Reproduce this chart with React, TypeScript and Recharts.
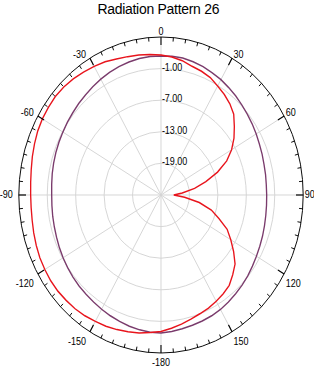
import React from 'react';
import { RadarChart, Radar, PolarGrid, PolarAngleAxis, PolarRadiusAxis } from 'recharts';

// angle in degrees, clockwise from top
const angles = [
  0, 5, 10, 15, 20, 25, 30, 35, 40, 45, 50, 55, 60, 65, 70, 75, 80, 85,
  90, 95, 100, 105, 110, 115, 120, 125, 130, 135, 140, 145, 150, 155, 160, 165, 170, 175,
  180, 185, 190, 195, 200, 205, 210, 215, 220, 225, 230, 235, 240, 245, 250, 255, 260, 265,
  270, 275, 280, 285, 290, 295, 300, 305, 310, 315, 320, 325, 330, 335, 340, 345, 350, 355,
];

const redValues = [
  1.6, 1.3, 0.9, 0.3, 0.0, -0.4, -1.1, -1.7, -2.4, -3.3, -4.8, -6.2, -7.8, -9.7, -12.3, -15.2, -17.8, -20.5,
  -22.3, -20.0, -16.8, -14.0, -12.0, -9.6, -8.0, -6.3, -4.6, -3.6, -2.6, -2.1, -1.7, -1.3, -1.0, -0.6, -0.1, 0.4,
  0.9, 1.2, 1.6, 1.9, 2.2, 2.5, 2.7, 3.0, 3.2, 3.3, 3.4, 3.4, 3.3, 3.2, 3.0, 2.8, 2.6, 2.5,
  2.5, 2.6, 2.8, 3.1, 3.4, 3.7, 3.9, 4.0, 4.1, 4.0, 3.8, 3.5, 3.2, 2.9, 2.5, 2.2, 2.0, 1.8,
];

const purpleValues = [
  1.4, 1.45, 1.4, 1.2, 0.95, 0.6, 0.3, -0.1, -0.45, -0.85, -1.2, -1.5, -1.8, -2.1, -2.3, -2.5, -2.6, -2.7,
  -2.7, -2.65, -2.55, -2.4, -2.2, -2.0, -1.75, -1.45, -1.1, -0.8, -0.5, -0.2, 0.1, 0.3, 0.45, 0.6, 0.8, 1.0,
  1.2, 1.15, 1.0, 0.8, 0.55, 0.3, 0.05, -0.2, -0.4, -0.55, -0.75, -0.95, -1.15, -1.35, -1.55, -1.7, -1.8, -1.9,
  -1.94, -1.85, -1.7, -1.55, -1.4, -1.25, -1.1, -0.9, -0.7, -0.45, -0.2, 0.1, 0.4, 0.7, 0.95, 1.15, 1.3, 1.4,
];

const radiusTicks = [-19, -13, -7, -1];
const radiusDomain = [-25, 5];
const spokeAngles = [90, 60, 30, 0, -30, -60, -90, -120, -150, -180, -210, -240];

const data = angles.map((a, i) => ({ angle: a, red: redValues[i], purple: purpleValues[i] }));

// the picture is squeezed horizontally
const SX = 0.9;
const W = 314 / SX;
const H = 372;
const CX = 161 / SX;
const CY = 195;
const R = 158;
const FONT = '"Liberation Sans", Arial, sans-serif';

const AngleTick = (props: any) => {
  const { payload } = props;
  const cx = props.cx ?? CX;
  const cy = props.cy ?? CY;
  const radius = props.radius ?? props.outerRadius ?? R;
  const deg = payload.coordinate ?? 90 - payload.value;
  const rad = (deg * Math.PI) / 180;
  const ux = Math.cos(rad);
  const uy = -Math.sin(rad);
  const px = cx + radius * ux;
  const py = cy + radius * uy;
  const major = payload.value % 30 === 0;
  const len = major ? 8 : 4;
  const label = payload.value < 180 ? payload.value : payload.value - 360;

  let tx = px;
  let ty = py;
  let anchor: 'start' | 'middle' | 'end' = 'middle';
  if (Math.abs(ux) < 0.1) {
    ty = uy < 0 ? py - 2 : py + 13;
  } else if (Math.abs(uy) < 0.1) {
    anchor = ux > 0 ? 'start' : 'end';
    tx = px + (ux > 0 ? 1.5 : -6) / SX;
    ty = py + 3.5;
  } else {
    anchor = ux > 0 ? 'start' : 'end';
    tx = px + (ux > 0 ? 1.5 : -4) / SX;
    ty = uy < 0 ? py : py + 13;
  }

  return (
    <g>
      <line
        x1={px}
        y1={py}
        x2={cx + (radius - len) * ux}
        y2={cy + (radius - len) * uy}
        stroke="#000"
        strokeWidth={major ? 1.2 : 1}
      />
      {major && (
        <text x={tx} y={ty} textAnchor={anchor} fontSize={10} fontFamily={FONT} fill="#000">
          {label}
        </text>
      )}
    </g>
  );
};

const RadiusTick = (props: any) => {
  const { x, y, payload } = props;
  return (
    <text x={x + 1} y={y + 2} textAnchor="start" fontSize={10} fontFamily={FONT} fill="#000">
      {Number(payload.value).toFixed(2)}
    </text>
  );
};

const App: React.FC = () => {
  return (
    <div
      style={{
        position: 'absolute',
        left: 0,
        top: 0,
        width: W,
        height: H,
        transform: `scaleX(${SX})`,
        transformOrigin: '0 0',
        background: '#fff',
      }}
    >
      <div
        style={{
          position: 'absolute',
          top: 0,
          left: CX - 173,
          width: 340,
          textAlign: 'center',
          fontFamily: FONT,
          fontSize: 15.5,
          lineHeight: '18px',
          letterSpacing: -0.3,
          color: '#000',
        }}
      >
        Radiation Pattern 26
      </div>
      <RadarChart
        width={W}
        height={H}
        data={data}
        cx={CX}
        cy={CY}
        outerRadius={R}
        startAngle={90}
        endAngle={-270}
        margin={{ top: 0, right: 0, bottom: 0, left: 0 }}
      >
        <PolarGrid gridType="circle" polarAngles={spokeAngles} stroke="#d4d4d4" strokeWidth={1} />
        <PolarAngleAxis
          dataKey="angle"
          axisLineType="circle"
          axisLine={{ stroke: '#000', strokeWidth: 1 }}
          tickLine={false}
          tick={<AngleTick />}
        />
        <PolarRadiusAxis
          angle={90}
          type="number"
          domain={radiusDomain}
          ticks={radiusTicks}
          axisLine={false}
          tickLine={false}
          tick={<RadiusTick />}
        />
        <Radar
          dataKey="purple"
          stroke="#7a3b6c"
          strokeWidth={1.5}
          fill="none"
          fillOpacity={0}
          dot={false}
          isAnimationActive={false}
        />
        <Radar
          dataKey="red"
          stroke="#e8141c"
          strokeWidth={1.5}
          fill="none"
          fillOpacity={0}
          dot={false}
          isAnimationActive={false}
        />
      </RadarChart>
    </div>
  );
};

export default App;
